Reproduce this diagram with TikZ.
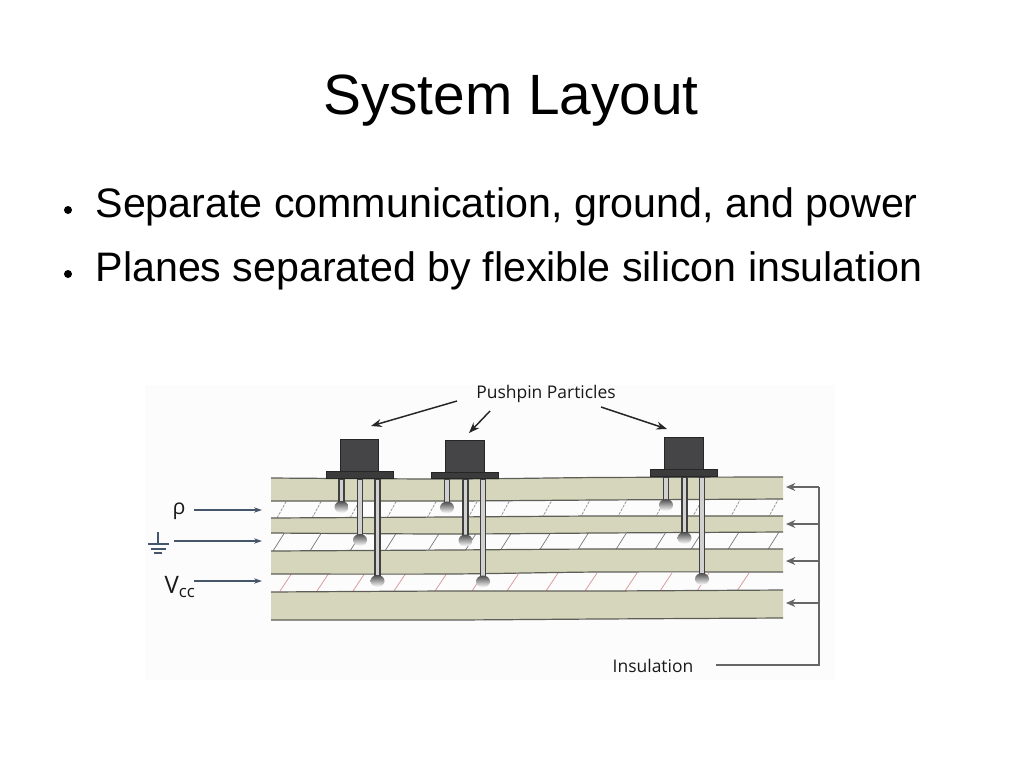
\documentclass[tikz,border=0pt]{standalone}
\usepackage{fontspec}
\setmainfont{Liberation Sans}
\newfontfamily\figfont{Open Sans}
\usepackage{xcolor}
\usetikzlibrary{arrows.meta,positioning}
\definecolor{bandfill}{HTML}{D6D6BC}
\definecolor{bandline}{HTML}{5E5E58}
\definecolor{pinhead}{HTML}{454547}
\definecolor{sigline}{HTML}{46566A}
\definecolor{hatchred}{HTML}{DE9A9C}
\tikzset{
	figlabel/.style = {
		font=\figfont\fontsize{13.1}{15}\selectfont, text=black!90, inner sep=0pt
	},
	bullettext/.style = {
		font=\fontsize{30.9}{36}\selectfont, anchor=base west, inner sep=0pt
	}
}
\begin{document}
\begin{tikzpicture}[
		x=0.75pt, y=-0.75pt,
		bulletdot/.style = {circle, fill=black, inner sep=0pt, minimum size=6pt},
		headbox/.style = {draw=black!85, fill=pinhead, line width=0.6pt, inner sep=0pt, minimum width=29pt, minimum height=24pt},
		flangebox/.style = {draw=black!85, fill=pinhead!85!black, line width=0.5pt, inner sep=0pt, minimum width=50pt, minimum height=4.6pt},
		legbox/.style = {draw=black!75, fill=black!18, line width=1.2pt, inner sep=0pt, minimum width=3.6pt},
		signal/.style = {draw=sigline, line width=0.9pt, -{Stealth[length=6pt,width=4pt]}},
		insul/.style = {draw=black!60, line width=0.9pt},
		insularrow/.style = {insul, -{Stealth[length=7pt,width=6pt]}},
		pointer/.style = {draw=black!85, line width=1.1pt, -{Stealth[length=8pt,width=6pt]}}
	]
	\useasboundingbox (0,0) rectangle (1023,767);
	\fill[white] (0,0) rectangle (1023,767);
	\fill[black!1] (145,385) rectangle (835,680);

	\node[font=\fontsize{42.6}{48}\selectfont, inner sep=0pt, anchor=base] (title) at (511,114) {System Layout};
	\node[bullettext] (line1) at (95.3,217) {Separate communication, ground, and power};
	\node[bullettext] (line2) at (95.3,281) {Planes separated by flexible silicon insulation};
	\node[bulletdot] (dot1) at (68,210) {};
	\node[bulletdot] (dot2) at (68,274) {};

	% hatching between the planes
	\foreach \x in {277,312,350,387,427,468,500,542,580,617,655,692,730,768}
		\draw[black!45, line width=0.5pt, dash pattern=on 2.2pt off 0.8pt] (\x,518) -- ++(10,-18);
	\foreach \x in {273,310,350,385,428,465,500,539,577,615,654,690,727,767}
		\draw[black!55, line width=0.5pt] (\x,551) -- ++(12,-19);
	\foreach \x in {280,317,353,394,435,472,507,546,585,625,660,697,737}
		\draw[hatchred, line width=0.6pt] (\x,591) -- ++(12,-18);

	% planes
	\foreach \a/\b/\c/\d/\e/\f/\g/\h in {
		478/479/477.5/477/501/501/500/499,
		518/517/516/516/533/534/533/532,
		551/550/549/549/574/574/572/572,
		592/591/591/590/620/620/619/618}
	{
		\fill[bandfill] plot[smooth] coordinates {(271,\a) (450,\b) (600,\c) (783,\d)}
			-- plot[smooth] coordinates {(783,\h) (600,\g) (450,\f) (271,\e)} -- cycle;
		\draw[bandline, line width=0.9pt] plot[smooth] coordinates {(271,\a) (450,\b) (600,\c) (783,\d)};
		\draw[bandline, line width=0.9pt] plot[smooth] coordinates {(271,\e) (450,\f) (600,\g) (783,\h)};
	}

	% pushpins
	\foreach \n/\px/\py in {a/359.5/439, b/465/439.5, c/684/437}
	{
		\begin{scope}[shift={(\px,\py)}]
			\foreach \m/\lx/\ly in {s/-18/68, m/0.5/101, l/18/142}
			{
				\node[legbox, anchor=north, minimum height={(\ly-42)*0.75pt}] (\n\m) at (\lx,39) {};
				\shade[top color=black!70, bottom color=white] (\lx,\ly) ellipse (7 and 6);
			}
			\node[headbox, anchor=north] (\n head) at (0,0) {};
			\node[flangebox, below=-0.3pt of \n head] (\n flange) {};
		\end{scope}
	}

	% labels
	\node[figlabel] (pins) at (546,393.5) {Pushpin Particles};
	\node[figlabel] (insulation) at (653,665.5) {Insulation};
	\node[figlabel, font=\figfont\fontsize{16}{18}\selectfont] (rho) at (179,511) {ρ};
	\node[figlabel, font=\figfont\fontsize{18}{20}\selectfont] (vcc) at (180,587) {V\textsubscript{cc}};

	\coordinate (p1) at (457,401);
	\coordinate (p2) at (490,411);
	\coordinate (p3) at (601,407);
	\coordinate (q1) at (371,426);
	\coordinate (q2) at (469,433);
	\coordinate (q3) at (667,429);
	\draw[pointer] (p1) -- (q1);
	\draw[pointer] (p2) -- (q2);
	\draw[pointer] (p3) -- (q3);

	% signal arrows
	\coordinate (r1) at (194,510);
	\coordinate (r2) at (174,541);
	\coordinate (r3) at (194,581);
	\coordinate (e1) at (262,510);
	\coordinate (e2) at (262,541);
	\coordinate (e3) at (262,581);
	\draw[signal] (r1) -- (e1);
	\draw[signal] (r2) -- (e2);
	\draw[signal] (r3) -- (e3);

	% ground symbol
	\draw[sigline, line width=0.9pt] (158,532) -- (158,544);
	\draw[sigline, line width=0.9pt] (148,544) -- (169,544);
	\draw[sigline, line width=0.9pt] (151,549) -- (166,549);
	\draw[sigline, line width=0.9pt] (154,553) -- (162,553);

	% insulation bracket
	\coordinate (c5) at (716,665);
	\coordinate (c0) at (819,665);
	\coordinate (c1) at (819,487);
	\coordinate (c2) at (819,524);
	\coordinate (c3) at (819,561);
	\coordinate (c4) at (819,603);
	\coordinate (t1) at (786,487);
	\coordinate (t2) at (786,524);
	\coordinate (t3) at (786,561);
	\coordinate (t4) at (786,603);
	\draw[insul] (c5) -- (c0) -- (c1);
	\draw[insularrow] (c1) -- (t1);
	\draw[insularrow] (c2) -- (t2);
	\draw[insularrow] (c3) -- (t3);
	\draw[insularrow] (c4) -- (t4);
\end{tikzpicture}
\end{document}
